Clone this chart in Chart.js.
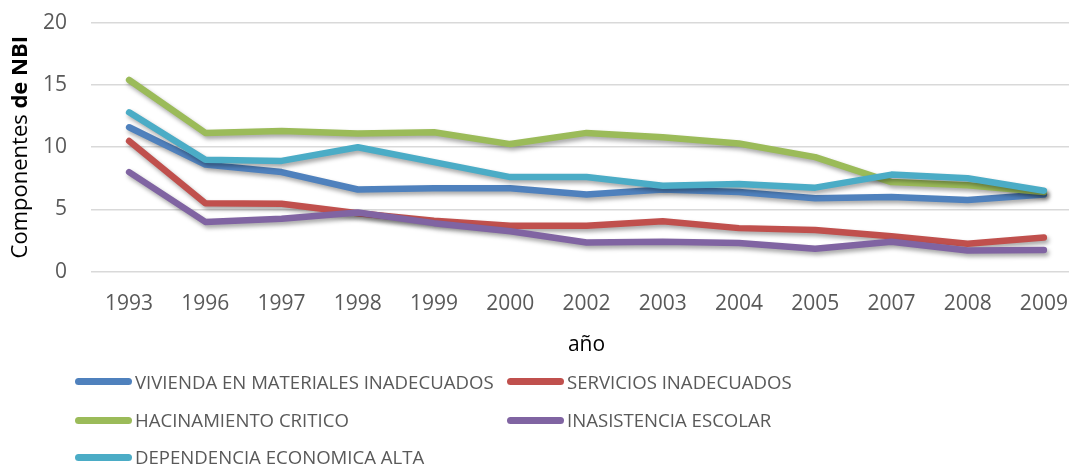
<!DOCTYPE html>
<html>
<head>
<meta charset="utf-8">
<script src="https://cdn.jsdelivr.net/npm/chart.js@4.4.1/dist/chart.umd.min.js"></script>
<style>
  html, body { margin: 0; padding: 0; background: #fff; overflow: hidden; }
  #wrap { position: relative; width: 1069px; height: 465px; overflow: hidden; }
  #box { position: absolute; left: 0; top: 0; width: 1100px; height: 465px; }
  .leg { position: absolute; font-family: "Open Sans", sans-serif; font-size: 18.6px; color: #595959; white-space: nowrap; line-height: 20px; }
  .sw { position: absolute; width: 57px; height: 7px; border-radius: 4px; }
</style>
</head>
<body>
<div id="wrap">
  <div id="box"><canvas id="c" width="1100" height="465"></canvas></div>
  <div id="legend"></div>
</div>
<script>
const years = ["1993", "1996", "1997", "1998", "1999", "2000", "2002", "2003", "2004", "2005", "2007", "2008", "2009"]
const vivienda = [11.6, 8.6, 8.0, 6.6, 6.7, 6.7, 6.2, 6.6, 6.4, 5.9, 6.0, 5.75, 6.2]
const servicios = [10.5, 5.5, 5.45, 4.7, 4.1, 3.7, 3.7, 4.05, 3.5, 3.35, 2.85, 2.25, 2.75]
const hacinamiento = [15.4, 11.15, 11.3, 11.1, 11.2, 10.25, 11.15, 10.8, 10.3, 9.2, 7.2, 6.95, 6.4]
const inasistencia = [8.0, 4.0, 4.25, 4.75, 3.9, 3.25, 2.35, 2.4, 2.3, 1.85, 2.4, 1.7, 1.75]
const dependencia = [12.8, 9.0, 8.9, 10.0, 8.8, 7.6, 7.6, 6.9, 7.05, 6.75, 7.8, 7.5, 6.5]
const yTicks = [0, 5, 10, 15, 20]

const series = [
  { label: "VIVIENDA EN MATERIALES INADECUADOS", data: vivienda, color: "#4F81BD" },
  { label: "SERVICIOS INADECUADOS", data: servicios, color: "#C0504D" },
  { label: "HACINAMIENTO CRITICO", data: hacinamiento, color: "#9BBB59" },
  { label: "INASISTENCIA ESCOLAR", data: inasistencia, color: "#8064A2" },
  { label: "DEPENDENCIA ECONOMICA ALTA", data: dependencia, color: "#4BACC6" }
]

// legend in two columns like the original
const legendPos = [[75, 381.5], [507, 381.5], [75, 420], [507, 420], [75, 457]]
const legend = document.getElementById("legend")
series.forEach((s, i) => {
  const [x, y] = legendPos[i]
  const sw = document.createElement("div")
  sw.className = "sw"
  sw.style.left = x + "px"
  sw.style.top = (y - 3.5) + "px"
  sw.style.background = s.color
  legend.appendChild(sw)
  const t = document.createElement("div")
  t.className = "leg"
  t.style.left = (x + 60) + "px"
  t.style.top = (y - 10) + "px"
  t.textContent = s.label
  legend.appendChild(t)
})

const shadow = {
  id: "shadow",
  beforeDatasetsDraw(chart) {
    const ctx = chart.ctx
    ctx.save()
    ctx.shadowColor = "rgba(0,0,0,0.35)"
    ctx.shadowBlur = 4
    ctx.shadowOffsetX = 2
    ctx.shadowOffsetY = 3
  },
  afterDatasetsDraw(chart) {
    chart.ctx.restore()
  }
}

// y title with "de NBI" in bold
const yTitle = {
  id: "yTitle",
  afterDraw(chart) {
    const ctx = chart.ctx
    const a = chart.chartArea
    const p1 = "Componentes ", p2 = "de NBI"
    ctx.save()
    ctx.translate(21, (a.top + a.bottom) / 2)
    ctx.rotate(-Math.PI / 2)
    ctx.textBaseline = "middle"
    ctx.fillStyle = "#000"
    ctx.font = "22px 'Open Sans'"
    const w1 = ctx.measureText(p1).width
    ctx.font = "bold 22px 'Open Sans'"
    const w2 = ctx.measureText(p2).width
    let x = -(w1 + w2) / 2
    ctx.font = "22px 'Open Sans'"
    ctx.fillText(p1, x, 0)
    ctx.font = "bold 22px 'Open Sans'"
    ctx.fillText(p2, x + w1, 0)
    ctx.restore()
  }
}

const chart = new Chart(document.getElementById("c"), {
  type: "line",
  data: {
    labels: years,
    datasets: series.map((s, i) => ({
      label: s.label,
      data: s.data,
      borderColor: s.color,
      backgroundColor: s.color,
      borderWidth: 6.5,
      borderCapStyle: "round",
      borderJoinStyle: "round",
      tension: 0,
      pointRadius: 0,
      order: series.length - i
    }))
  },
  options: {
    responsive: false,
    animation: false,
    layout: { padding: { top: 22, bottom: 103, left: 0, right: 18 } },
    plugins: { legend: { display: false }, tooltip: { enabled: false } },
    scales: {
      x: {
        offset: true,
        grid: { display: false },
        border: { display: false },
        ticks: { color: "#595959", font: { family: "Open Sans", size: 21 }, padding: 12 },
        title: { display: true, text: "año", color: "#000", font: { family: "Open Sans", size: 21 }, padding: { top: 0 } },
        afterFit: s => { s.height = 90 }
      },
      y: {
        min: 0,
        max: 20,
        afterBuildTicks: s => { s.ticks = yTicks.map(v => ({ value: v })) },
        grid: { color: "#d9d9d9", lineWidth: 1.5, tickLength: 22, tickColor: "rgba(0,0,0,0)" },
        border: { display: false },
        ticks: { color: "#595959", font: { family: "Open Sans", size: 21 }, padding: 2 },
        afterFit: s => { s.width = 91 }
      }
    }
  },
  plugins: [shadow, yTitle]
})

// nudge the plot area onto the reference's 0..20 band
const area = chart.chartArea
const pad = chart.options.layout.padding
pad.top += 22.7 - area.top
pad.bottom += area.bottom - 271.7
chart.update()
</script>
</body>
</html>
